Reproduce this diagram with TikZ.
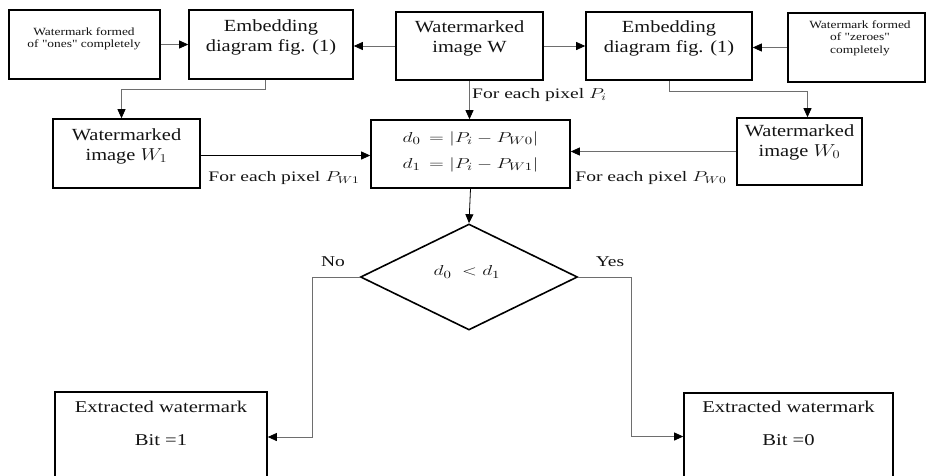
\documentclass[tikz,border=0pt]{standalone}
\usepackage{fontspec}
\setmainfont{Liberation Serif}
\newfontfamily\tnr{Liberation Serif}
\usepackage{graphicx}
\usetikzlibrary{arrows.meta,shapes.geometric,calc}
\newcommand\st[2]{\scalebox{#1}[1]{\begin{tabular}{@{}c@{}}#2\end{tabular}}}
\definecolor{lgray}{RGB}{110,110,110}
\definecolor{tcol}{RGB}{20,20,20}
\begin{document}
\begin{tikzpicture}[x=1pt,y=-1pt,
  box/.style={draw=black,line width=1.6pt,rectangle,inner sep=0pt,fill=white},
  txt/.style={inner sep=0pt,align=center,text=tcol},
  big/.style={font=\tnr\fontsize{17}{20}\selectfont},
  small/.style={font=\tnr\fontsize{11}{12.5}\selectfont},
  lab/.style={font=\tnr\fontsize{14.5}{16}\selectfont},
  mid/.style={font=\tnr\fontsize{15}{17}\selectfont},
  ext/.style={font=\tnr\fontsize{16.5}{19}\selectfont},
  arr/.style={line width=0.8pt,draw=lgray,-{Triangle[length=9pt,width=8pt,color=black]}},
  arrk/.style={line width=0.8pt,draw=black,-{Triangle[length=9pt,width=8pt,color=black]}}]
\fill[white] (0,0) rectangle (928,475);
\useasboundingbox (0,0) rectangle (928,475);
% boxes
\node[box,minimum width=151pt,minimum height=69pt] (A) at (84.5,44.5) {};
\node[box,minimum width=164pt,minimum height=69pt] (B) at (271,44.5) {};
\node[box,minimum width=147pt,minimum height=68pt] (C) at (469.5,46) {};
\node[box,minimum width=166pt,minimum height=68pt] (D) at (669,46) {};
\node[box,minimum width=137pt,minimum height=69pt] (E) at (856.5,47.5) {};
\node[box,minimum width=147pt,minimum height=69pt] (F) at (126.5,153.5) {};
\node[box,minimum width=199pt,minimum height=68pt] (G) at (470.5,154) {};
\node[box,minimum width=125pt,minimum height=67pt] (H) at (799.5,151.5) {};
\node[draw=black,line width=1.6pt,diamond,inner sep=0pt,minimum width=217pt,minimum height=106pt] (dia) at (469,277) {};
\node[box,minimum width=212pt,minimum height=90pt] (I) at (161,437) {};
\node[box,minimum width=209pt,minimum height=87pt] (J) at (788.5,436.5) {};
% texts
\node[txt,small] (tA) at (84,39) {\st{1.22}{Watermark formed\\of "ones" completely}};
\node[txt,small] (tE) at (860,38) {\st{1.22}{Watermark formed\\of "zeroes"\\completely}};
\node[txt,big] (tB) at (271,37) {\st{1.2}{Embedding\\diagram fig. (1)}};
\node[txt,big] (tC) at (469.5,38) {\st{1.2}{Watermarked\\image W}};
\node[txt,big] (tD) at (669,38) {\st{1.2}{Embedding\\diagram fig. (1)}};
\node[txt,big] (tF) at (126.5,146) {\st{1.2}{Watermarked\\image $W_1$}};
\node[txt,big] (tH) at (799.5,142) {\st{1.2}{Watermarked\\image $W_0$}};
\node[txt,mid] (tG) at (470.5,152) {\st{1.35}{$d_0\,=|P_i-P_{W0}|$\\[9pt]$d_1\,=|P_i-P_{W1}|$}};
\node[txt,mid] (tdia) at (467,272) {\scalebox{1.35}[1]{$d_0\ <d_1$}};
\node[txt,ext] (tI1) at (161,407) {\scalebox{1.25}[1]{Extracted watermark}};
\node[txt,ext] (tI2) at (161,440) {\scalebox{1.25}[1]{Bit =1}};
\node[txt,ext] (tJ1) at (788.5,407) {\scalebox{1.25}[1]{Extracted watermark}};
\node[txt,ext] (tJ2) at (788.5,440) {\scalebox{1.25}[1]{Bit =0}};
% labels
\node[txt,lab,anchor=west] (l1) at (472,95) {\scalebox{1.35}[1]{For each pixel $P_i$}};
\node[txt,lab] (l2) at (284,178) {\scalebox{1.35}[1]{For each pixel $P_{W1}$}};
\node[txt,lab] (l3) at (651,178) {\scalebox{1.35}[1]{For each pixel $P_{W0}$}};
\node[txt,mid] (no) at (333,262) {\scalebox{1.3}[1]{No}};
\node[txt,mid] (yes) at (610,262) {\scalebox{1.3}[1]{Yes}};
% connectors
\draw[arr] (A.east) -- (A.east -| B.west);
\draw[arr] (C.west) -- (C.west -| B.east);
\draw[arr] (C.east) -- (C.east -| D.west);
\draw[arr] (E.west) -- (E.west -| D.east);
\draw[arr] ($(B.south)+(-6,0)$) -- ++(0,10) -| ($(F.north)+(-5,0)$);
\draw[arr] (D.south) -- ++(0,11) -| ($(H.north)+(8,0)$);
\draw[arr] (C.south) -- (C.south |- G.north);
\draw[arrk] ($(F.east)+(0,2)$) -- ($(F.east -| G.west)+(0,2)$);
\draw[arr] (H.west) -- (H.west -| G.east);
\draw[arrk] (G.south) -- (dia.north);
\draw[arr] (dia.west) -- ++(-47,0) |- (I.east);
\draw[arr] (dia.east) -- ++(53,0) |- (J.west);
\end{tikzpicture}
\end{document}
